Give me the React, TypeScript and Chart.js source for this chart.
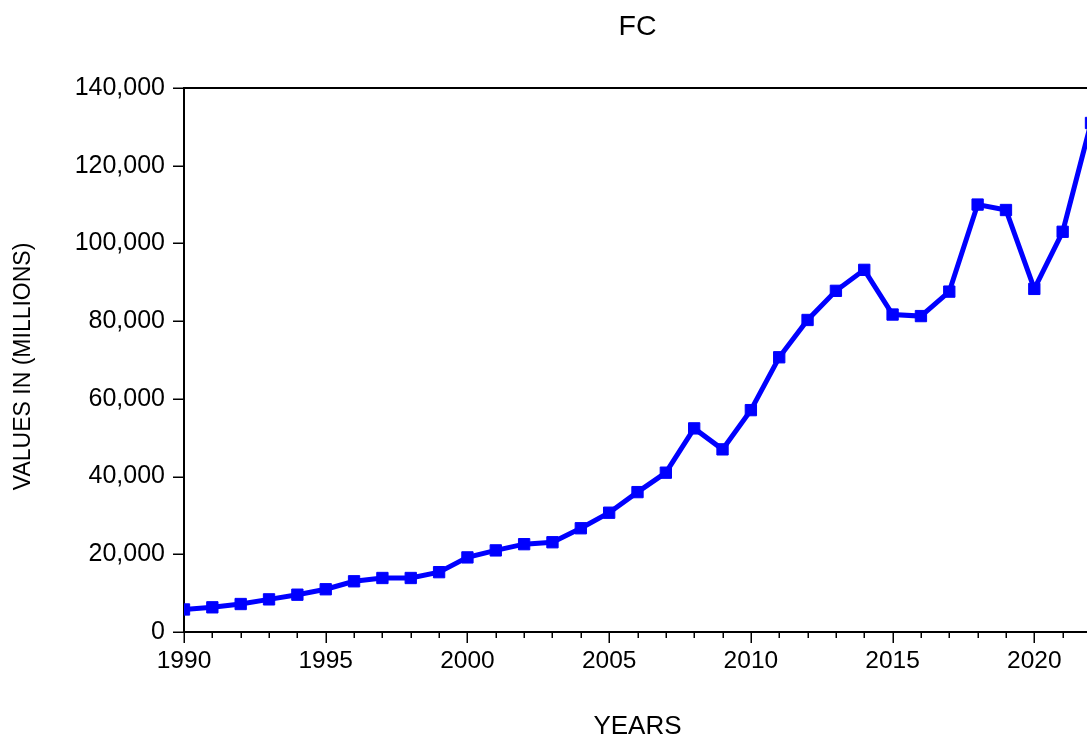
import React, { useEffect, useRef } from "react";
import { Chart, registerables } from "chart.js";

Chart.register(...registerables);

const chartTitle = "FC";
const xAxisTitle = "YEARS";
const yAxisTitle = "VALUES IN (MILLIONS)";

const years = [
  1990, 1991, 1992, 1993, 1994, 1995, 1996, 1997, 1998, 1999,
  2000, 2001, 2002, 2003, 2004, 2005, 2006, 2007, 2008, 2009,
  2010, 2011, 2012, 2013, 2014, 2015, 2016, 2017, 2018, 2019,
  2020, 2021, 2022,
];

const fcValues = [
  5800, 6350, 7200, 8400, 9600, 11000, 13050, 13900, 13900, 15400,
  19200, 21000, 22600, 23100, 26700, 30700, 36000, 41000, 52400, 47000,
  57100, 70700, 80300, 87800, 93200, 81700, 81300, 87600, 110000, 108600,
  88300, 103000, 131000,
];

const yTickValues = [0, 20000, 40000, 60000, 80000, 100000, 120000, 140000];
const xLabelEvery = 5;

const FONT = "'Liberation Sans', Arial, Helvetica, sans-serif";

const tickPlugin = {
  id: "outerTicks",
  afterDraw(chart: any) {
    const { ctx, chartArea, scales } = chart;
    const xs = scales.x;
    const ys = scales.y;
    ctx.save();
    ctx.strokeStyle = "#000";
    ctx.lineWidth = 1.5;
    ctx.beginPath();
    for (const yr of years) {
      const px = Math.round(xs.getPixelForValue(yr)) + 0.25;
      const len = yr % xLabelEvery === 0 ? 11 : 6;
      ctx.moveTo(px, chartArea.bottom);
      ctx.lineTo(px, chartArea.bottom + len);
    }
    for (const v of yTickValues) {
      const py = Math.round(ys.getPixelForValue(v)) + 0.25;
      ctx.moveTo(chartArea.left, py);
      ctx.lineTo(chartArea.left - 11, py);
    }
    ctx.stroke();
    ctx.lineWidth = 2;
    ctx.beginPath();
    ctx.moveTo(chartArea.right, chartArea.top);
    ctx.lineTo(chartArea.right, chartArea.bottom);
    ctx.stroke();
    ctx.restore();
  },
};

export default function App() {
  const canvasRef = useRef<HTMLCanvasElement | null>(null);

  useEffect(() => {
    const canvas = canvasRef.current;
    if (!canvas) return;
    const data = years.map((yr, i) => ({ x: yr, y: fcValues[i] }));
    const chart = new Chart(canvas, {
      type: "line",
      data: {
        datasets: [
          {
            label: chartTitle,
            data,
            borderColor: "#0000FF",
            backgroundColor: "#0000FF",
            borderWidth: 5,
            pointStyle: "rect",
            pointRadius: 8,
            pointBorderWidth: 1,
            pointBackgroundColor: "#0000FF",
            pointBorderColor: "#0000FF",
            tension: 0,
            clip: 0,
          } as any,
        ],
      },
      options: {
        responsive: false,
        animation: false,
        devicePixelRatio: 1,
        layout: { padding: { left: 0, right: 8, top: 0, bottom: 0 } },
        plugins: {
          legend: { display: false },
          title: { display: false },
          tooltip: { enabled: false },
        },
        scales: {
          x: {
            type: "linear",
            position: "bottom",
            min: 1990,
            max: 2022,
            afterFit: (s: any) => {
              s.height = 105;
            },
            grid: { display: false, drawTicks: true, tickLength: 11 },
            border: { display: true, color: "#000", width: 2 },
            ticks: {
              stepSize: 1,
              autoSkip: false,
              maxRotation: 0,
              minRotation: 0,
              padding: 4,
              color: "#000",
              font: { family: FONT, size: 24.5 },
              callback: (v: any) =>
                Number(v) % xLabelEvery === 0 ? String(v) : "",
            },
            title: {
              display: true,
              text: xAxisTitle,
              color: "#000",
              font: { family: FONT, size: 26, lineHeight: 0.8 },
              padding: { top: 0, bottom: 0 },
            },
          },
          xTop: {
            type: "linear",
            axis: "x",
            position: "top",
            min: 1990,
            max: 2022,
            afterFit: (s: any) => {
              s.height = 88;
            },
            grid: { display: false, drawTicks: false },
            border: { display: true, color: "#000", width: 2 },
            ticks: { display: false },
            title: {
              display: true,
              text: chartTitle,
              color: "#000",
              font: { family: FONT, size: 28.5 },
              padding: { top: 10, bottom: 0 },
            },
          },
          y: {
            type: "linear",
            position: "left",
            min: 0,
            max: 140000,
            afterFit: (s: any) => {
              s.width = 184;
            },
            grid: { display: false, drawTicks: true, tickLength: 11 },
            border: { display: true, color: "#000", width: 2 },
            ticks: {
              stepSize: 20000,
              padding: 8,
              color: "#000",
              font: { family: FONT, size: 25 },
              callback: (v: any) => Number(v).toLocaleString("en-US"),
            },
            title: {
              display: true,
              text: yAxisTitle + "  ",
              color: "#000",
              font: { family: FONT, size: 23 },
              padding: { top: 10, bottom: 0 },
            },
          },
        },
      } as any,
      plugins: [tickPlugin],
    });
    return () => chart.destroy();
  }, []);

  return (
    <div
      style={{
        position: "fixed",
        left: 0,
        top: 0,
        width: 1087,
        height: 737,
        overflow: "hidden",
        background: "#fff",
      }}
    >
      <canvas
        ref={canvasRef}
        width={1100}
        height={737}
        style={{ display: "block", width: 1100, height: 737 }}
      />
    </div>
  );
}
